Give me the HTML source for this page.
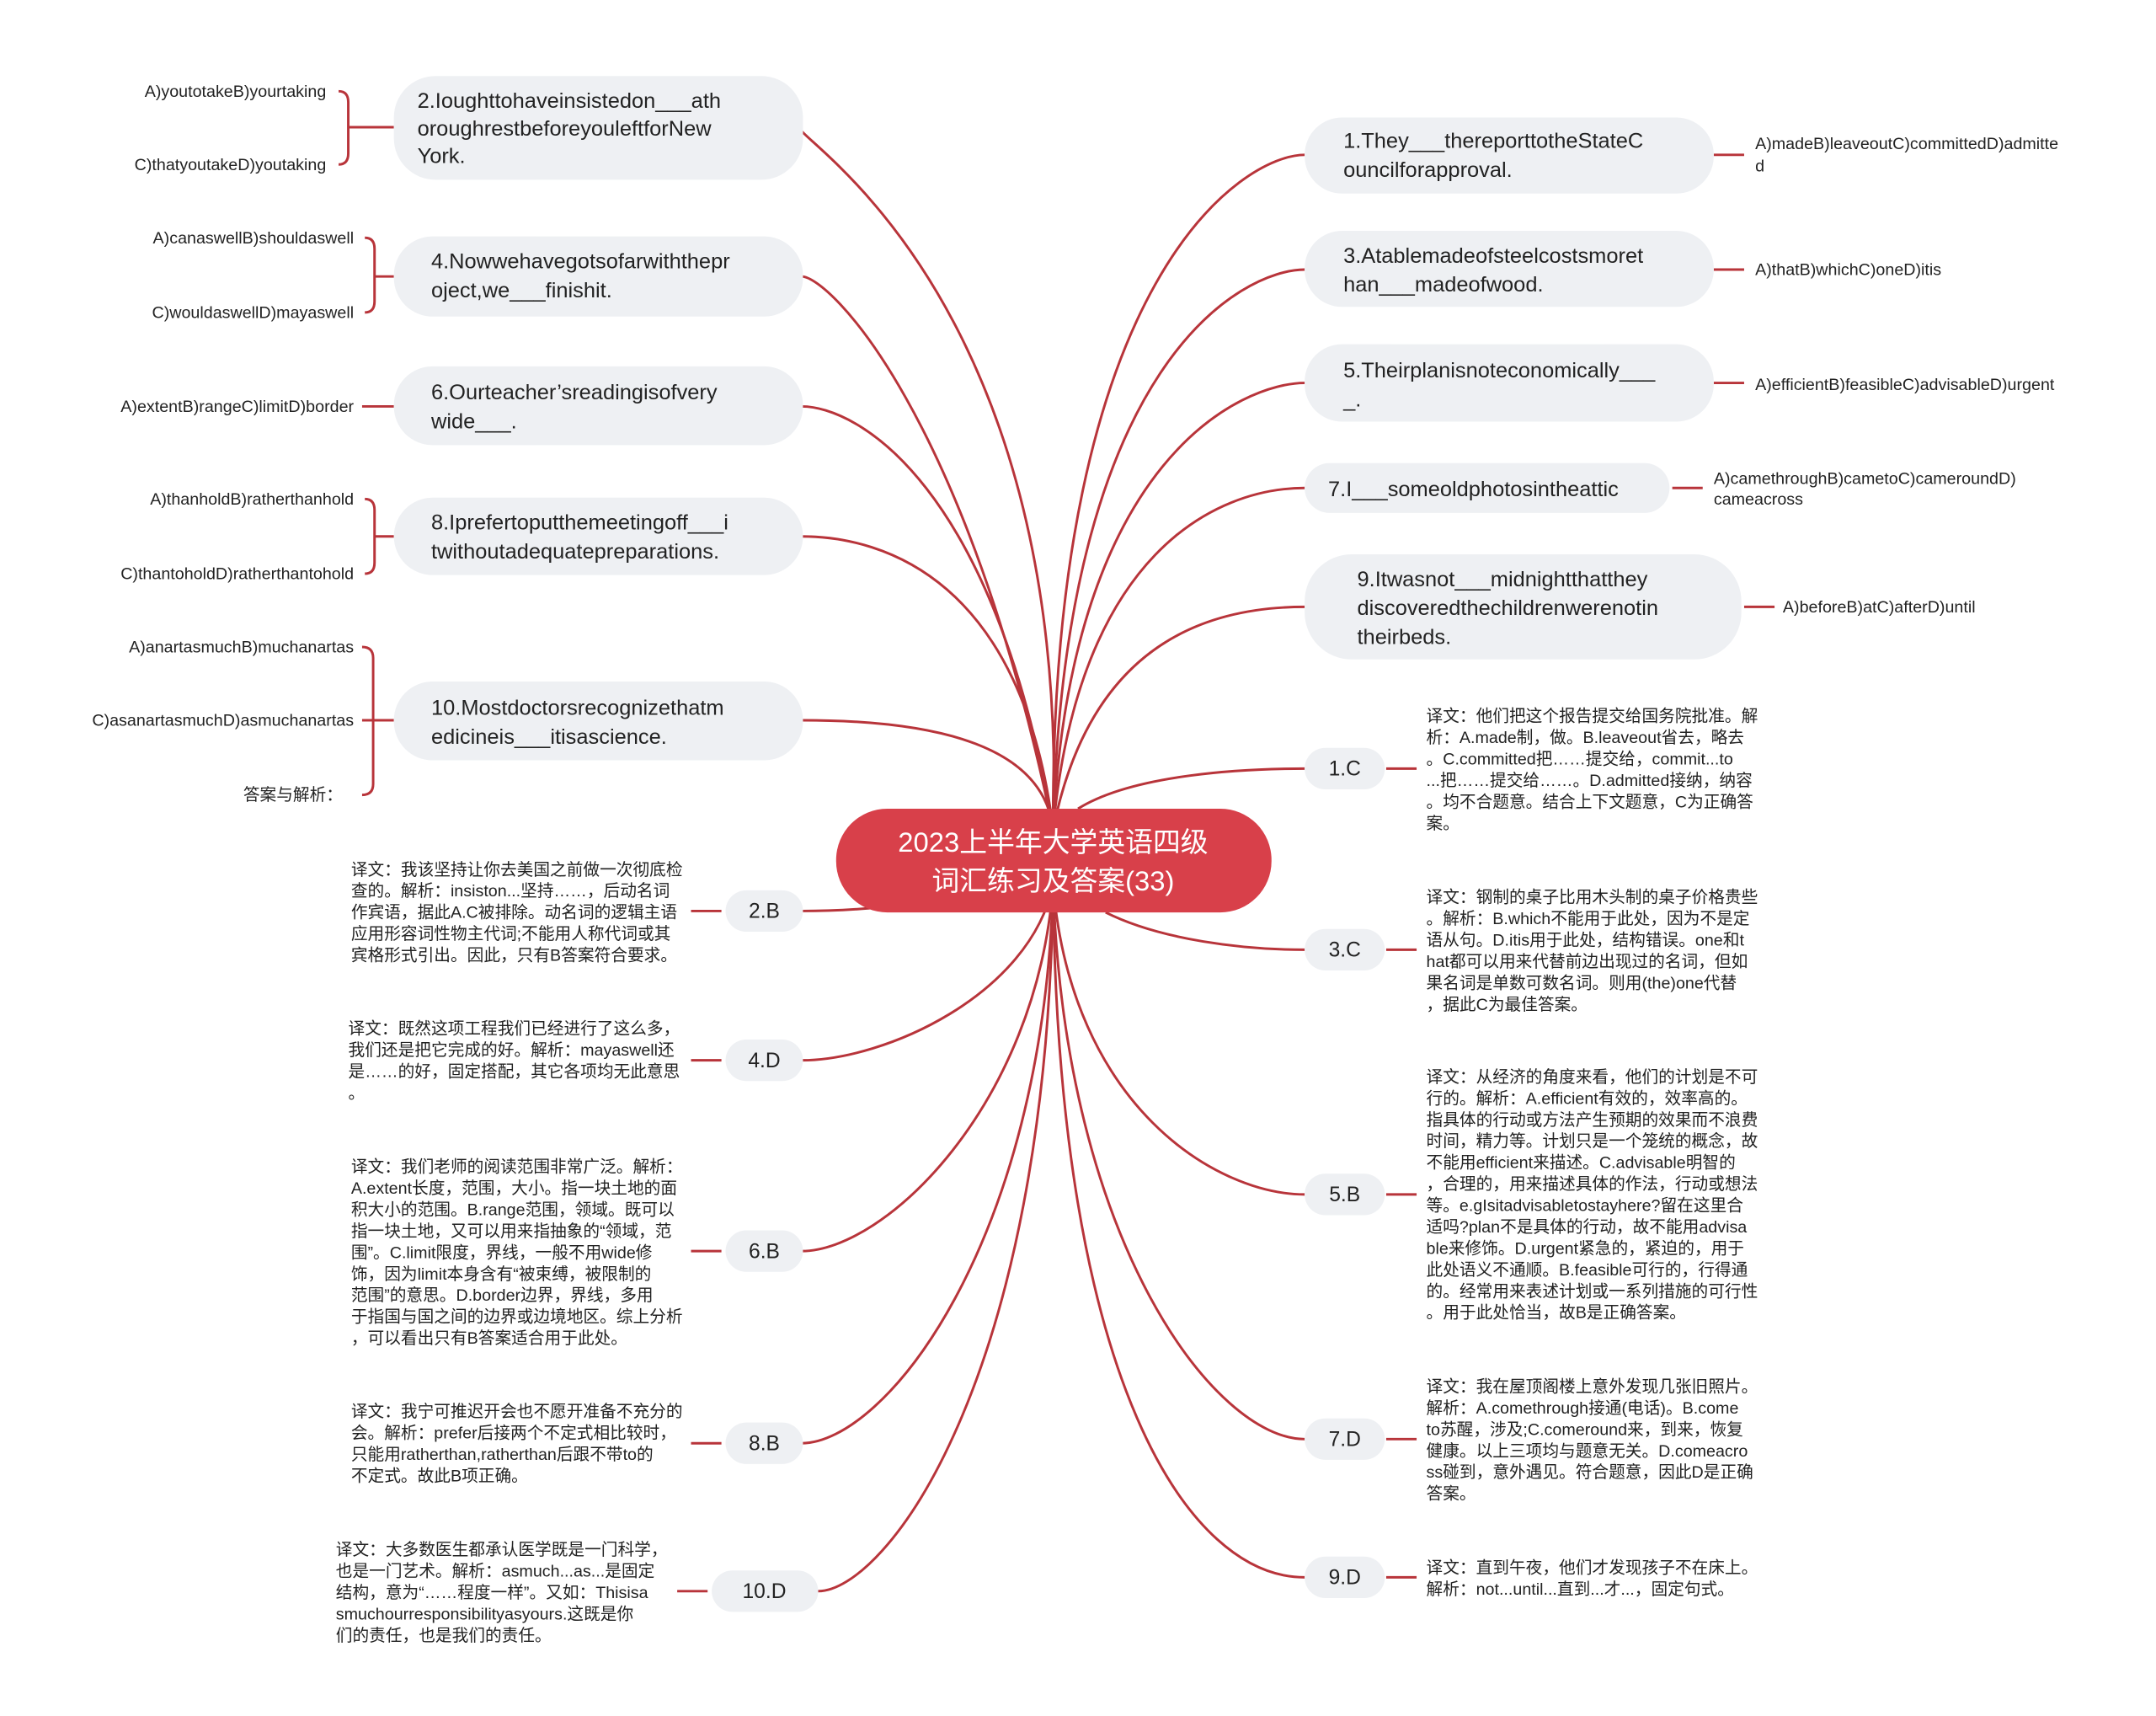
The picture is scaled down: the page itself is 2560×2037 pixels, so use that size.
<!DOCTYPE html>
<html><head><meta charset="utf-8">
<style>
html,body{margin:0;padding:0;background:#fff;}
svg{display:block;}
text{font-family:"Liberation Sans","Noto Sans CJK SC",sans-serif;fill:#222;}
.q{font-size:15.5px;}
.s{font-size:12px;}
.a{font-size:15px;}
.n{fill:#eef0f3;}
.c{fill:none;stroke:#b8343a;stroke-width:1.8;}
</style></head>
<body>
<svg width="2560" height="2037" viewBox="0 0 1560 1241.3" preserveAspectRatio="none" xmlns="http://www.w3.org/2000/svg">
<!-- connectors from hub -->
<g class="c">
<path d="M762 600 C 775 200, 560 92, 580 92"/>
<path d="M762 600 C 700 300, 600 200, 580 200"/>
<path d="M762 600 C 720 350, 620 294, 580 294"/>
<path d="M762 600 C 740 420, 640 388, 580 388"/>
<path d="M762 600 C 755 540, 680 521, 580 521"/>
<path d="M762 600 C 760 200, 900 112, 944 112"/>
<path d="M762 600 C 770 260, 900 195, 944 195"/>
<path d="M762 600 C 775 330, 900 277, 944 277"/>
<path d="M762 600 C 780 400, 880 353, 944 353"/>
<path d="M762 600 C 790 460, 880 439, 944 439"/>
<path d="M780 585 C 820 560, 900 556, 944 556"/>
<path d="M800 660 C 840 680, 900 687, 944 687"/>
<path d="M762 640 C 775 800, 880 864, 944 864"/>
<path d="M762 640 C 770 900, 880 1041, 944 1041"/>
<path d="M762 640 C 765 1000, 860 1141, 944 1141"/>
<path d="M640 656 C 620 658, 600 659, 580 659"/>
<path d="M762 640 C 745 720, 640 767, 580 767"/>
<path d="M762 640 C 750 800, 640 905, 580 905"/>
<path d="M762 640 C 755 900, 640 1044, 580 1044"/>
<path d="M762 640 C 758 1000, 640 1151, 592 1151"/>
<!-- small ticks / brackets -->
<path d="M245 66 Q252 66 252 74 L252 111 Q252 119 245 119 M252 92 L285 92"/>
<path d="M264 172 Q271 172 271 180 L271 218 Q271 226 264 226 M271 200 L285 200"/>
<path d="M262 294 L285 294"/>
<path d="M264 361 Q271 361 271 369 L271 407 Q271 415 264 415 M271 388 L285 388"/>
<path d="M262 468 Q270 468 270 476 L270 567 Q270 575 262 575 M262 521 L285 521"/>
<path d="M1240 112 L1262 112"/>
<path d="M1240 195 L1262 195"/>
<path d="M1240 277 L1262 277"/>
<path d="M1210 353 L1232 353"/>
<path d="M1262 439 L1284 439"/>
<path d="M1003 556 L1025 556"/>
<path d="M1003 687 L1025 687"/>
<path d="M1003 864 L1025 864"/>
<path d="M1003 1041 L1025 1041"/>
<path d="M1003 1141 L1025 1141"/>
<path d="M500 659 L522 659"/>
<path d="M500 767 L522 767"/>
<path d="M500 905 L522 905"/>
<path d="M500 1044 L522 1044"/>
<path d="M490 1151 L512 1151"/>
</g>

<!-- center -->
<rect x="605" y="585" width="315" height="75" rx="37" fill="#d8404a"/>
<text x="762" y="616" text-anchor="middle" style="font-size:20px;fill:#fff">2023上半年大学英语四级</text>
<text x="762" y="644" text-anchor="middle" style="font-size:20px;fill:#fff">词汇练习及答案(33)</text>

<!-- left questions -->
<rect class="n" x="285" y="55" width="296" height="75" rx="30"/>
<text class="q" x="302" y="78">2.Ioughttohaveinsistedon___ath</text>
<text class="q" x="302" y="98">oroughrestbeforeyouleftforNew</text>
<text class="q" x="302" y="118">York.</text>
<rect class="n" x="285" y="171" width="296" height="58" rx="28"/>
<text class="q" x="312" y="194">4.Nowwehavegotsofarwiththepr</text>
<text class="q" x="312" y="215">oject,we___finishit.</text>
<rect class="n" x="285" y="265" width="296" height="57" rx="28"/>
<text class="q" x="312" y="289">6.Ourteacher’sreadingisofvery</text>
<text class="q" x="312" y="310">wide___.</text>
<rect class="n" x="285" y="360" width="296" height="56" rx="28"/>
<text class="q" x="312" y="383">8.Iprefertoputthemeetingoff___i</text>
<text class="q" x="312" y="404">twithoutadequatepreparations.</text>
<rect class="n" x="285" y="493" width="296" height="57" rx="28"/>
<text class="q" x="312" y="517">10.Mostdoctorsrecognizethatm</text>
<text class="q" x="312" y="538">edicineis___itisascience.</text>

<!-- left options -->
<g class="s" text-anchor="end">
<text x="236" y="70">A)youtotakeB)yourtaking</text>
<text x="236" y="123">C)thatyoutakeD)youtaking</text>
<text x="256" y="176">A)canaswellB)shouldaswell</text>
<text x="256" y="230">C)wouldaswellD)mayaswell</text>
<text x="256" y="298">A)extentB)rangeC)limitD)border</text>
<text x="256" y="365">A)thanholdB)ratherthanhold</text>
<text x="256" y="419">C)thantoholdD)ratherthantohold</text>
<text x="256" y="472">A)anartasmuchB)muchanartas</text>
<text x="256" y="525">C)asanartasmuchD)asmuchanartas</text>
<text x="248" y="579">答案与解析：</text>
</g>

<!-- right questions -->
<rect class="n" x="944" y="85" width="296" height="55" rx="27"/>
<text class="q" x="972" y="107">1.They___thereporttotheStateC</text>
<text class="q" x="972" y="128">ouncilforapproval.</text>
<rect class="n" x="944" y="167" width="296" height="55" rx="27"/>
<text class="q" x="972" y="190">3.Atablemadeofsteelcostsmoret</text>
<text class="q" x="972" y="211">han___madeofwood.</text>
<rect class="n" x="944" y="249" width="296" height="56" rx="27"/>
<text class="q" x="972" y="273">5.Theirplanisnoteconomically___</text>
<text class="q" x="972" y="294">_.</text>
<rect class="n" x="944" y="335" width="264" height="36" rx="18"/>
<text class="q" x="961" y="359">7.I___someoldphotosintheattic</text>
<rect class="n" x="944" y="401" width="316" height="76" rx="34"/>
<text class="q" x="982" y="424">9.Itwasnot___midnightthatthey</text>
<text class="q" x="982" y="445">discoveredthechildrenwerenotin</text>
<text class="q" x="982" y="466">theirbeds.</text>

<g class="s">
<text x="1270" y="108">A)madeB)leaveoutC)committedD)admitte</text>
<text x="1270" y="124">d</text>
<text x="1270" y="199">A)thatB)whichC)oneD)itis</text>
<text x="1270" y="282">A)efficientB)feasibleC)advisableD)urgent</text>
<text x="1240" y="350">A)camethroughB)cametoC)cameroundD)</text>
<text x="1240" y="365">cameacross</text>
<text x="1290" y="443">A)beforeB)atC)afterD)until</text>
</g>

<!-- right answer pills -->
<rect class="n" x="944" y="541" width="58" height="30" rx="15"/><text class="a" x="973" y="561" text-anchor="middle">1.C</text>
<rect class="n" x="944" y="672" width="58" height="30" rx="15"/><text class="a" x="973" y="692" text-anchor="middle">3.C</text>
<rect class="n" x="944" y="849" width="58" height="30" rx="15"/><text class="a" x="973" y="869" text-anchor="middle">5.B</text>
<rect class="n" x="944" y="1026" width="58" height="30" rx="15"/><text class="a" x="973" y="1046" text-anchor="middle">7.D</text>
<rect class="n" x="944" y="1126" width="58" height="30" rx="15"/><text class="a" x="973" y="1146" text-anchor="middle">9.D</text>

<!-- left answer pills -->
<rect class="n" x="525" y="644" width="56" height="30" rx="15"/><text class="a" x="553" y="664" text-anchor="middle">2.B</text>
<rect class="n" x="525" y="752" width="56" height="30" rx="15"/><text class="a" x="553" y="772" text-anchor="middle">4.D</text>
<rect class="n" x="525" y="890" width="56" height="30" rx="15"/><text class="a" x="553" y="910" text-anchor="middle">6.B</text>
<rect class="n" x="525" y="1029" width="56" height="30" rx="15"/><text class="a" x="553" y="1049" text-anchor="middle">8.B</text>
<rect class="n" x="515" y="1136" width="77" height="30" rx="15"/><text class="a" x="553" y="1156" text-anchor="middle">10.D</text>

<!-- right explanations -->
<g class="s">
<text x="1032" y="522">译文：他们把这个报告提交给国务院批准。解</text>
<text x="1032" y="537.5">析：A.made制，做。B.leaveout省去，略去</text>
<text x="1032" y="553">。C.committed把……提交给，commit...to</text>
<text x="1032" y="568.5">...把……提交给……。D.admitted接纳，纳容</text>
<text x="1032" y="584">。均不合题意。结合上下文题意，C为正确答</text>
<text x="1032" y="599.5">案。</text>

<text x="1032" y="653">译文：钢制的桌子比用木头制的桌子价格贵些</text>
<text x="1032" y="668.5">。解析：B.which不能用于此处，因为不是定</text>
<text x="1032" y="684">语从句。D.itis用于此处，结构错误。one和t</text>
<text x="1032" y="699.5">hat都可以用来代替前边出现过的名词，但如</text>
<text x="1032" y="715">果名词是单数可数名词。则用(the)one代替</text>
<text x="1032" y="730.5">，据此C为最佳答案。</text>

<text x="1032" y="783">译文：从经济的角度来看，他们的计划是不可</text>
<text x="1032" y="798.5">行的。解析：A.efficient有效的，效率高的。</text>
<text x="1032" y="814">指具体的行动或方法产生预期的效果而不浪费</text>
<text x="1032" y="829.5">时间，精力等。计划只是一个笼统的概念，故</text>
<text x="1032" y="845">不能用efficient来描述。C.advisable明智的</text>
<text x="1032" y="860.5">，合理的，用来描述具体的作法，行动或想法</text>
<text x="1032" y="876">等。e.gIsitadvisabletostayhere?留在这里合</text>
<text x="1032" y="891.5">适吗?plan不是具体的行动，故不能用advisa</text>
<text x="1032" y="907">ble来修饰。D.urgent紧急的，紧迫的，用于</text>
<text x="1032" y="922.5">此处语义不通顺。B.feasible可行的，行得通</text>
<text x="1032" y="938">的。经常用来表述计划或一系列措施的可行性</text>
<text x="1032" y="953.5">。用于此处恰当，故B是正确答案。</text>

<text x="1032" y="1007">译文：我在屋顶阁楼上意外发现几张旧照片。</text>
<text x="1032" y="1022.5">解析：A.comethrough接通(电话)。B.come</text>
<text x="1032" y="1038">to苏醒，涉及;C.comeround来，到来，恢复</text>
<text x="1032" y="1053.5">健康。以上三项均与题意无关。D.comeacro</text>
<text x="1032" y="1069">ss碰到，意外遇见。符合题意，因此D是正确</text>
<text x="1032" y="1084.5">答案。</text>

<text x="1032" y="1138">译文：直到午夜，他们才发现孩子不在床上。</text>
<text x="1032" y="1153.5">解析：not...until...直到...才...，固定句式。</text>
</g>

<!-- left explanations -->
<g class="s">
<text x="254" y="633">译文：我该坚持让你去美国之前做一次彻底检</text>
<text x="254" y="648.5">查的。解析：insiston...坚持……，后动名词</text>
<text x="254" y="664">作宾语，据此A.C被排除。动名词的逻辑主语</text>
<text x="254" y="679.5">应用形容词性物主代词;不能用人称代词或其</text>
<text x="254" y="695">宾格形式引出。因此，只有B答案符合要求。</text>

<text x="252" y="748">译文：既然这项工程我们已经进行了这么多，</text>
<text x="252" y="763.5">我们还是把它完成的好。解析：mayaswell还</text>
<text x="252" y="779">是……的好，固定搭配，其它各项均无此意思</text>
<text x="252" y="794.5">。</text>

<text x="254" y="848">译文：我们老师的阅读范围非常广泛。解析：</text>
<text x="254" y="863.5">A.extent长度，范围，大小。指一块土地的面</text>
<text x="254" y="879">积大小的范围。B.range范围，领域。既可以</text>
<text x="254" y="894.5">指一块土地，又可以用来指抽象的“领域，范</text>
<text x="254" y="910">围”。C.limit限度，界线，一般不用wide修</text>
<text x="254" y="925.5">饰，因为limit本身含有“被束缚，被限制的</text>
<text x="254" y="941">范围”的意思。D.border边界，界线，多用</text>
<text x="254" y="956.5">于指国与国之间的边界或边境地区。综上分析</text>
<text x="254" y="972">，可以看出只有B答案适合用于此处。</text>

<text x="254" y="1025">译文：我宁可推迟开会也不愿开准备不充分的</text>
<text x="254" y="1040.5">会。解析：prefer后接两个不定式相比较时，</text>
<text x="254" y="1056">只能用ratherthan,ratherthan后跟不带to的</text>
<text x="254" y="1071.5">不定式。故此B项正确。</text>

<text x="243" y="1125">译文：大多数医生都承认医学既是一门科学，</text>
<text x="243" y="1140.5">也是一门艺术。解析：asmuch...as...是固定</text>
<text x="243" y="1156">结构，意为“……程度一样”。又如：Thisisa</text>
<text x="243" y="1171.5">smuchourresponsibilityasyours.这既是你</text>
<text x="243" y="1187">们的责任，也是我们的责任。</text>
</g>
</svg>
</body></html>
